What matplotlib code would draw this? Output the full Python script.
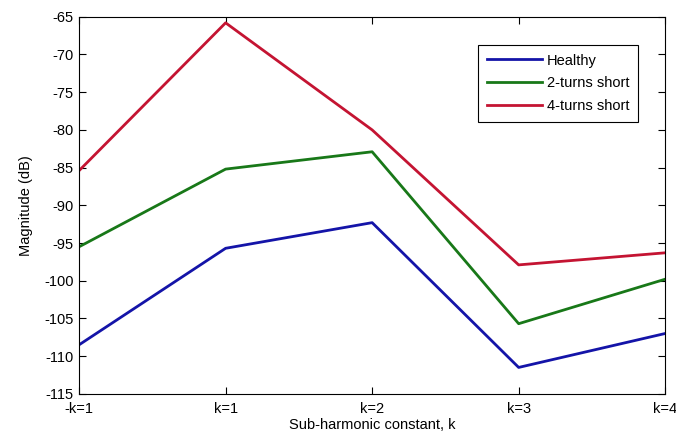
import matplotlib.pyplot as plt

plt.rcParams['font.family'] = ['Liberation Sans', 'DejaVu Sans']
plt.rcParams['axes.unicode_minus'] = False

labels = ['-k=1', 'k=1', 'k=2', 'k=3', 'k=4']
healthy = [-108.5, -95.7, -92.3, -111.5, -107.0]
two_turns = [-95.5, -85.2, -82.9, -105.7, -99.8]
four_turns = [-85.4, -65.8, -80.0, -97.9, -96.3]

fig = plt.figure(figsize=(6.76, 4.42), dpi=100)
ax = fig.add_axes([0.117, 0.109, 0.867, 0.853])

x = range(len(labels))
ax.plot(x, healthy, color='#1414a8', lw=2, label='Healthy')
ax.plot(x, two_turns, color='#187818', lw=2, label='2-turns short')
ax.plot(x, four_turns, color='#c41432', lw=2, label='4-turns short')

ax.set_xlim(0, 4)
ax.set_ylim(-115, -65)
ax.set_xticks(list(x))
ax.set_xticklabels(labels)
ax.set_yticks(range(-115, -64, 5))
ax.tick_params(direction='in', top=True, right=True, labelsize=10.5, length=5)
ax.tick_params(axis='x', pad=6)
ax.tick_params(axis='y', pad=4)
ax.set_xlabel('Sub-harmonic constant, k', fontsize=10.5, labelpad=1)
ax.set_ylabel('Magnitude (dB)', fontsize=10.5, labelpad=8)

leg = ax.legend(loc='upper right', bbox_to_anchor=(0.966, 0.945), fontsize=10.5,
                fancybox=False, edgecolor='black', framealpha=1,
                handlelength=3.8, handletextpad=0.3, borderpad=0.6, labelspacing=0.6)
leg.get_frame().set_linewidth(0.8)

fig.savefig('out.png')
